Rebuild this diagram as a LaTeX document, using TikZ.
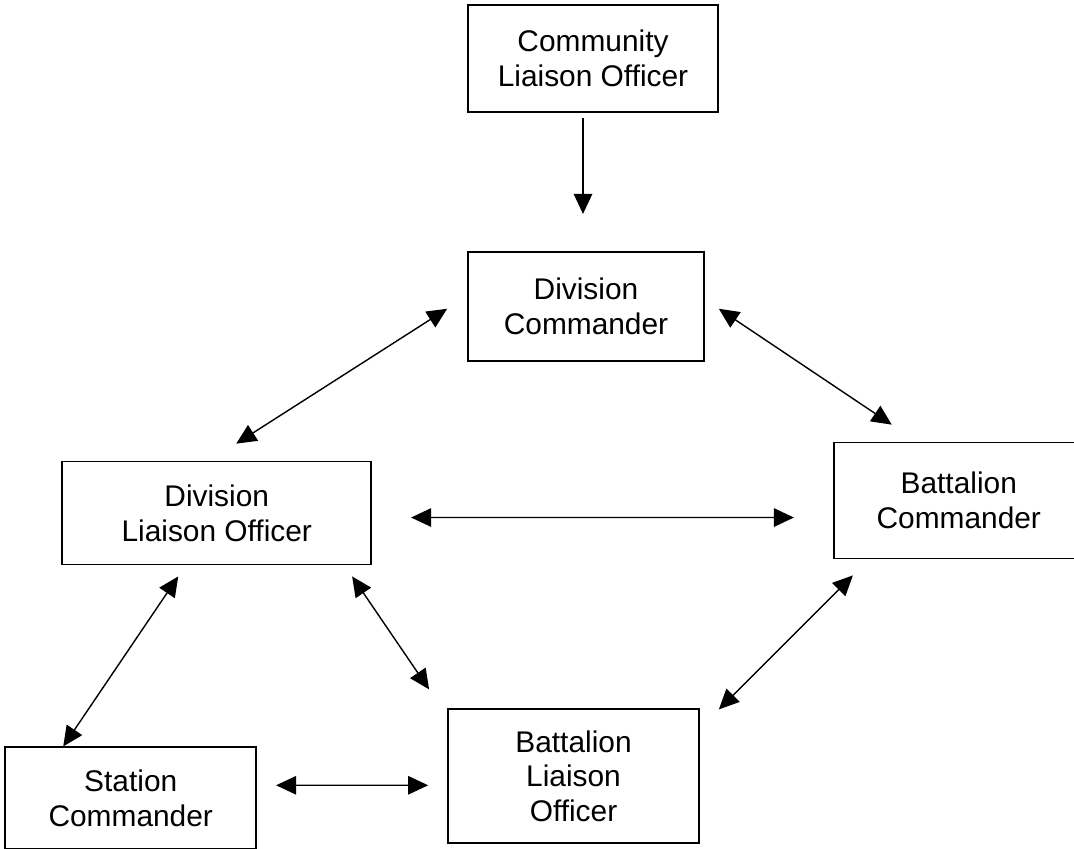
\documentclass[tikz,border=0pt]{standalone}
\usepackage{fontspec}
\setmainfont{Liberation Sans}
\usepackage{tikz}
\usetikzlibrary{positioning}
\usetikzlibrary{arrows.meta}

\begin{document}
\begin{tikzpicture}[>={Triangle[length=0.4cm, width=0.37cm]},
rolenode/.style={rectangle, draw=black, line width=1pt, align=center, font=\fontsize{17pt}{19.8pt}\selectfont},
link/.style={line width=0.8pt},
]
\useasboundingbox (0,0) rectangle (21.48,-16.96);

%Nodes
\node[rolenode, minimum width=5cm, minimum height=2.14cm]      (CLO)     at (11.86,-1.17)                         {Community\\Liaison Officer};
\node[rolenode, minimum width=4.72cm, minimum height=2.18cm]   (DC)      [below=2.76cm of CLO, xshift=-0.14cm]    {Division\\Commander};
\node[rolenode, minimum width=6.18cm, minimum height=2.06cm]   (DLO)     [below left=1.98cm and 1.9cm of DC]      {Division\\Liaison Officer};
\node[rolenode, minimum width=5cm, minimum height=2.32cm]      (BC)      [below right=1.6cm and 2.56cm of DC]     {Battalion\\Commander};
\node[rolenode, minimum width=5.02cm, minimum height=2.68cm]   (BLO)     [below right=2.86cm and 1.5cm of DLO]    {Battalion\\Liaison\\Officer};
\node[rolenode, minimum width=5.02cm, minimum height=2.04cm]   (SC)      [below=3.62cm of DLO, xshift=-1.72cm]    {Station\\Commander};

%Lines
\draw[link, ->]  ([shift={(-0.2,-0.1)}]CLO.south)       -- ([shift={(-0.06,0.74)}]DC.north);
\draw[link, <->] ([shift={(-0.4,-0.05)}]DC.west)        -- ([shift={(0.39,0.34)}]DLO.north);
\draw[link, <->] ([shift={(0.28,-0.05)}]DC.east)        -- ([shift={(-1.34,0.34)}]BC.north);
\draw[link, <->] ([shift={(0.78,-0.09)}]DLO.east)       -- ([shift={(-0.78,-0.34)}]BC.west);
\draw[link, <->] ([shift={(-0.77,-0.22)}]DLO.south)     -- ([shift={(-1.35,0)}]SC.north);
\draw[link, <->] ([shift={(-0.4,-0.22)}]DLO.south east) -- ([shift={(-0.36,0.38)}]BLO.north west);
\draw[link, <->] ([shift={(0.4,-0.32)}]BC.south west)   -- ([shift={(0.38,-0.02)}]BLO.north east);
\draw[link, <->] ([shift={(0.38,0.26)}]SC.east)         -- ([shift={(-0.38,-0.18)}]BLO.west);
\end{tikzpicture}
\end{document}
